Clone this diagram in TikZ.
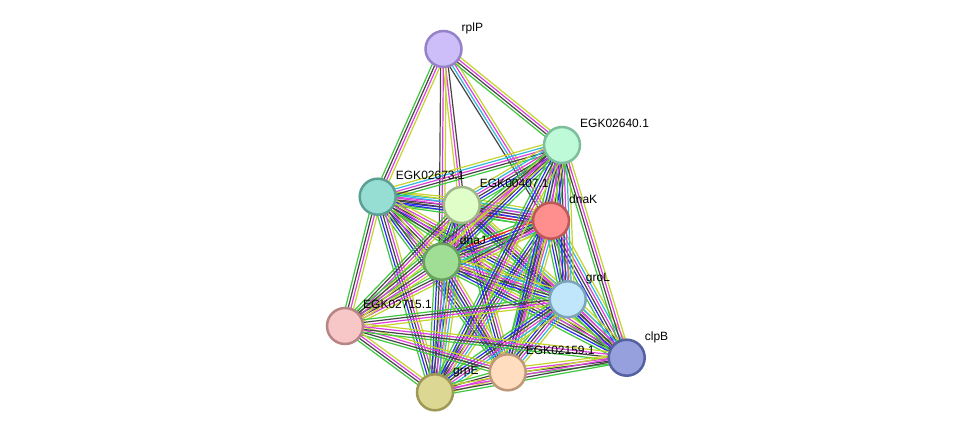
\documentclass[tikz,border=0pt]{standalone}
\usepackage{fontspec}
\setmainfont{Liberation Sans}
\usetikzlibrary{calc,backgrounds}
\definecolor{gr}{HTML}{3FC83F}
\definecolor{rd}{HTML}{F02020}
\definecolor{bl}{HTML}{2B2BF0}
\definecolor{bk}{HTML}{454545}
\definecolor{mg}{HTML}{DD40DD}
\definecolor{cy}{HTML}{30B8E0}
\definecolor{yl}{HTML}{C4D42C}
\tikzset{
  prot/.style={circle, minimum size=36pt, inner sep=0pt, line width=2.5pt},
  lbl/.style={anchor=base west, inner sep=0pt, font=\fontsize{12}{14}\selectfont},
  evid/.style={line width=1.2pt},
}
\newcommand\stredge[4]{\foreach \cc [count=\ii] in {#4}{\pgfmathsetmacro\oo{(\ii-(#3+1)/2)*2.7}\draw[evid,draw=\cc] ($(#1)!\oo pt!90:(#2)$) -- ($(#2)!\oo pt!-90:(#1)$);}}
\newcommand\protlabel[3]{\node[lbl] (#1) at ($(#2)+(18,-17.5)$) {#3};}
\begin{document}
\begin{tikzpicture}[x=1pt,y=-1pt]
\useasboundingbox (0,0) rectangle (976,438);
\node[prot, fill={rgb,255:red,205;green,190;blue,250}, draw={rgb,255:red,150;green,130;blue,200}] (R) at (443.5,49) {};
\node[prot, fill={rgb,255:red,190;green,250;blue,215}, draw={rgb,255:red,125;green,190;blue,155}] (A) at (562,145) {};
\node[prot, fill={rgb,255:red,150;green,222;blue,211}, draw={rgb,255:red,92;green,160;blue,148}] (T) at (377.7,196.7) {};
\node[prot, fill={rgb,255:red,224;green,255;blue,200}, draw={rgb,255:red,160;green,184;blue,136}] (Y) at (461.7,205) {};
\node[prot, fill={rgb,255:red,255;green,142;blue,142}, draw={rgb,255:red,190;green,88;blue,88}] (K) at (551,220.7) {};
\node[prot, fill={rgb,255:red,161;green,222;blue,149}, draw={rgb,255:red,106;green,160;blue,96}] (J) at (441.7,261.7) {};
\node[prot, fill={rgb,255:red,191;green,230;blue,250}, draw={rgb,255:red,125;green,164;blue,184}] (L) at (567.7,299.3) {};
\node[prot, fill={rgb,255:red,247;green,198;blue,198}, draw={rgb,255:red,184;green,132;blue,132}] (P) at (345,326) {};
\node[prot, fill={rgb,255:red,150;green,160;blue,220}, draw={rgb,255:red,84;green,96;blue,160}] (B) at (626.7,357.7) {};
\node[prot, fill={rgb,255:red,255;green,221;blue,190}, draw={rgb,255:red,190;green,152;blue,120}] (E) at (507.7,372.3) {};
\node[prot, fill={rgb,255:red,220;green,216;blue,148}, draw={rgb,255:red,158;green,154;blue,86}] (G) at (435,392.3) {};
\begin{pgfonlayer}{background}
\fill[white] (0,0) rectangle (976,438);
\stredge{R}{T}{4}{gr,bk,mg,yl}
\stredge{R}{Y}{3}{yl,mg,bk}
\stredge{R}{J}{3}{bk,mg,yl}
\stredge{R}{K}{4}{bk,cy,mg,yl}
\stredge{R}{A}{4}{gr,bk,mg,yl}
\stredge{T}{Y}{6}{gr,bl,bk,mg,cy,yl}
\stredge{T}{K}{6}{gr,bl,bk,mg,cy,yl}
\stredge{T}{J}{5}{gr,bl,bk,mg,yl}
\stredge{T}{A}{5}{gr,bk,mg,cy,yl}
\stredge{T}{L}{5}{gr,bl,bk,mg,yl}
\stredge{T}{P}{4}{gr,bk,mg,yl}
\stredge{T}{E}{5}{gr,bl,bk,mg,yl}
\stredge{T}{G}{5}{gr,bl,bk,mg,yl}
\stredge{T}{B}{4}{gr,bk,mg,yl}
\stredge{Y}{K}{7}{gr,rd,bl,bk,mg,cy,yl}
\stredge{Y}{J}{6}{gr,bl,bk,mg,cy,yl}
\stredge{Y}{A}{6}{gr,bl,bk,mg,cy,yl}
\stredge{Y}{L}{6}{gr,bl,bk,mg,cy,yl}
\stredge{Y}{P}{4}{gr,bk,mg,yl}
\stredge{Y}{E}{5}{gr,bl,bk,mg,yl}
\stredge{Y}{G}{6}{gr,bl,bk,mg,cy,yl}
\stredge{Y}{B}{5}{gr,bl,bk,mg,yl}
\stredge{K}{J}{7}{gr,rd,bl,bk,mg,cy,yl}
\stredge{K}{A}{6}{gr,bl,bk,mg,cy,yl}
\stredge{K}{L}{6}{gr,bl,bk,mg,cy,yl}
\stredge{K}{P}{4}{gr,bk,mg,yl}
\stredge{K}{E}{6}{gr,bl,bk,mg,cy,yl}
\stredge{K}{G}{6}{gr,bl,bk,mg,cy,yl}
\stredge{K}{B}{6}{gr,bl,bk,mg,cy,yl}
\stredge{J}{A}{5}{gr,bl,bk,mg,yl}
\stredge{J}{L}{6}{gr,bl,bk,mg,cy,yl}
\stredge{J}{P}{4}{gr,bk,mg,yl}
\stredge{J}{E}{5}{gr,bl,bk,mg,yl}
\stredge{J}{G}{6}{gr,bl,bk,mg,cy,yl}
\stredge{J}{B}{5}{gr,bl,bk,mg,yl}
\stredge{A}{L}{6}{gr,bl,bk,mg,cy,yl}
\stredge{A}{P}{4}{gr,bk,mg,yl}
\stredge{A}{E}{5}{gr,bl,bk,mg,yl}
\stredge{A}{G}{5}{gr,bl,bk,mg,yl}
\stredge{A}{B}{4}{gr,bk,mg,yl}
\stredge{L}{P}{4}{gr,bk,mg,yl}
\stredge{L}{E}{6}{gr,bl,bk,mg,cy,yl}
\stredge{L}{G}{6}{gr,bl,bk,mg,cy,yl}
\stredge{L}{B}{6}{gr,bl,bk,mg,cy,yl}
\stredge{P}{E}{4}{gr,bk,mg,yl}
\stredge{P}{G}{4}{gr,bk,mg,yl}
\stredge{P}{B}{4}{gr,bk,mg,yl}
\stredge{E}{G}{4}{gr,bk,mg,yl}
\stredge{E}{B}{4}{gr,bk,mg,yl}
\stredge{G}{B}{4}{gr,bk,mg,yl}
\end{pgfonlayer}
\protlabel{lR}{R}{rplP}
\protlabel{lA}{A}{EGK02640.1}
\protlabel{lT}{T}{EGK02673.1}
\protlabel{lY}{Y}{EGK00407.1}
\protlabel{lK}{K}{dnaK}
\protlabel{lJ}{J}{dnaJ}
\protlabel{lL}{L}{groL}
\protlabel{lP}{P}{EGK02715.1}
\protlabel{lB}{B}{clpB}
\protlabel{lE}{E}{EGK02159.1}
\protlabel{lG}{G}{grpE}
\end{tikzpicture}
\end{document}
